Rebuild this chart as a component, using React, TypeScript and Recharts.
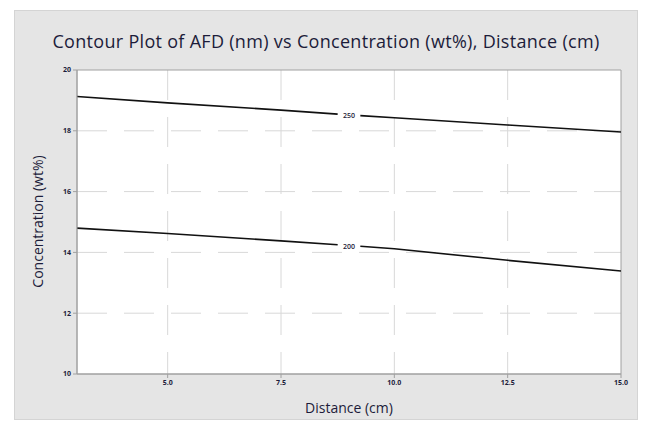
import {
  ComposedChart,
  Line,
  Scatter,
  XAxis,
  YAxis,
  CartesianGrid,
  ReferenceArea,
} from "recharts";

// distance (cm) sample points along each contour, null row at 9.0 leaves room for the label
const distance = [3, 5, 7.5, 8.75, 9.0, 9.25, 10, 12.5, 15];
const contour250 = [19.13, 18.92, 18.68, 18.55, null, 18.5, 18.43, 18.19, 17.96];
const contour200 = [14.8, 14.62, 14.38, 14.25, null, 14.2, 14.12, 13.74, 13.39];

const contourLabels = ["250", "200"];
const labelDistance = [9.0, 9.0];
const labelConcentration = [18.5, 14.19];

const xTicks = [5, 7.5, 10, 12.5, 15];
const yTicks = [10, 12, 14, 16, 18, 20];

const data = distance.map((d, i) => ({
  d,
  c250: contour250[i],
  c200: contour200[i],
}));

const labelData = contourLabels.map((text, i) => ({
  d: labelDistance[i],
  c: labelConcentration[i],
  text,
}));

const FONT = "'Open Sans', 'Noto Sans', sans-serif";
const INK = "#1c1c3a";

const ContourLabel = (props: any) => {
  const { cx, cy, payload } = props;
  return (
    <text
      x={cx}
      y={cy}
      dy={2.5}
      textAnchor="middle"
      fontSize={7}
      fontWeight={600}
      fill={INK}
      fontFamily={FONT}
    >
      {payload.text}
    </text>
  );
};

export default function App() {
  return (
    <div
      style={{
        position: "absolute",
        left: 0,
        top: 0,
        width: 652,
        height: 426,
        background: "#fff",
        fontFamily: FONT,
      }}
    >
      {/* gray graph panel */}
      <div
        style={{
          position: "absolute",
          left: 14,
          top: 10,
          width: 624,
          height: 410,
          background: "#e5e5e5",
          border: "1px solid #d4d4d4",
          boxSizing: "border-box",
        }}
      />
      <div
        style={{
          position: "absolute",
          left: 14,
          top: 29,
          width: 624,
          textAlign: "center",
          fontSize: 18,
          letterSpacing: 0.3,
          color: INK,
          whiteSpace: "nowrap",
        }}
      >
        Contour Plot of AFD (nm) vs Concentration (wt%), Distance (cm)
      </div>
      <ComposedChart
        width={652}
        height={426}
        data={data}
        margin={{ top: 70, right: 31, bottom: 22, left: 47 }}
        style={{ position: "absolute", left: 0, top: 0 }}
      >
        <CartesianGrid
          fill="#fff"
          stroke="#d8d8d8"
          strokeDasharray="30 17"
          verticalValues={[5, 7.5, 10, 12.5]}
          horizontalValues={[12, 14, 16, 18]}
        />
        <XAxis
          dataKey="d"
          type="number"
          domain={[3, 15]}
          ticks={xTicks}
          allowDataOverflow
          height={30}
          tickSize={4}
          tickLine={{ stroke: "#a0a0a0" }}
          axisLine={{ stroke: "#a0a0a0" }}
          tickFormatter={(v: number) => v.toFixed(1)}
          tick={{ fontSize: 7, fontWeight: 700, fill: INK, fontFamily: FONT }}
        />
        <YAxis
          type="number"
          domain={[10, 20]}
          ticks={yTicks}
          allowDataOverflow
          width={30}
          tickSize={4}
          tickLine={{ stroke: "#a0a0a0" }}
          axisLine={{ stroke: "#a0a0a0" }}
          tick={{ fontSize: 7, fontWeight: 700, fill: INK, fontFamily: FONT }}
        />
        <ReferenceArea
          x1={3}
          x2={15}
          y1={10}
          y2={20}
          fill="none"
          stroke="#a0a0a0"
          strokeWidth={1}
        />
        <Line
          dataKey="c250"
          type="linear"
          stroke="#111"
          strokeWidth={1.6}
          dot={false}
          connectNulls={false}
          isAnimationActive={false}
        />
        <Line
          dataKey="c200"
          type="linear"
          stroke="#111"
          strokeWidth={1.6}
          dot={false}
          connectNulls={false}
          isAnimationActive={false}
        />
        <Scatter
          data={labelData}
          dataKey="c"
          shape={ContourLabel}
          isAnimationActive={false}
        />
      </ComposedChart>
      <div
        style={{
          position: "absolute",
          left: 77,
          top: 398,
          width: 544,
          textAlign: "center",
          fontSize: 14,
          color: INK,
        }}
      >
        Distance (cm)
      </div>
      <div
        style={{
          position: "absolute",
          left: 37 - 100,
          top: 222 - 10,
          width: 200,
          textAlign: "center",
          fontSize: 14,
          color: INK,
          transform: "rotate(-90deg)",
        }}
      >
        Concentration (wt%)
      </div>
    </div>
  );
}
